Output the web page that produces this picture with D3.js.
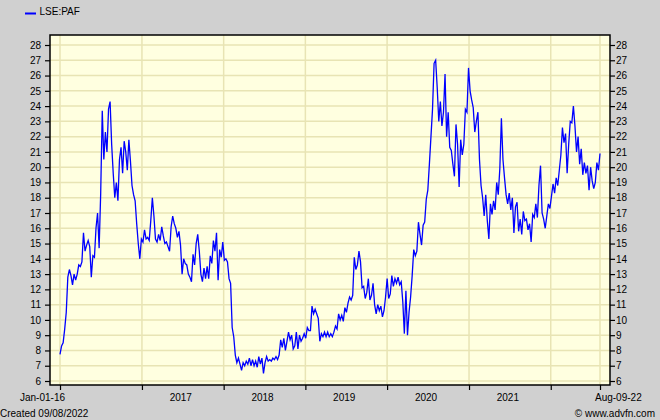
<!DOCTYPE html>
<html><head><meta charset="utf-8">
<script src="https://cdn.jsdelivr.net/npm/d3@7"></script>
<style>
html,body{margin:0;padding:0;background:#d0d0d0;}
svg{display:block;font-family:"Liberation Sans",Arial,sans-serif;}
</style>
</head><body>
<svg id="c" width="660" height="420"></svg>
<script>
const seriesName = "LSE:PAF";
const startDate = "2016-01-01";
const endDate = "2022-08-09";
// weekly closing prices (GBp)
const prices = [
7.75, 8.3, 8.5, 9.4, 10.5, 12.8, 13.3, 12.9, 12.3, 13.0,
12.6, 13.0, 13.6, 13.5, 13.8, 15.7, 14.5, 14.9, 15.2, 14.8,
12.8, 14.2, 14.1, 16.0, 17.0, 14.7, 18.3, 23.7, 20.5, 22.3,
21.0, 23.8, 24.3, 21.5, 19.6, 18.0, 19.0, 17.8, 20.5, 21.3,
19.6, 21.7, 21.0, 19.8, 21.8, 20.4, 18.8, 18.2, 17.8, 16.3,
15.0, 14.0, 15.3, 15.1, 15.9, 15.3, 15.4, 15.2, 16.5, 18.0,
16.8, 15.3, 15.1, 15.6, 15.2, 16.1, 15.5, 15.0, 15.1, 14.8,
14.5, 16.1, 16.8, 16.3, 16.0, 15.4, 15.8, 14.9, 13.0, 14.0,
13.7, 13.6, 13.0, 12.8, 12.5, 14.3, 13.6, 15.0, 15.6, 14.5,
13.0, 12.5, 13.4, 12.7, 13.5, 12.7, 14.2, 13.7, 15.2, 14.5,
15.7, 12.6, 14.6, 14.1, 15.1, 13.9, 14.0, 13.8, 12.7, 12.4,
9.5, 8.9, 7.7, 7.2, 7.5, 7.1, 6.7, 7.2, 7.0, 7.3,
7.1, 7.5, 7.0, 7.4, 7.0, 7.3, 6.9, 7.6, 7.1, 7.5,
6.5, 7.2, 7.6, 7.3, 7.4, 7.3, 7.5, 7.4, 7.6, 7.4,
7.7, 8.7, 8.2, 8.8, 8.0, 8.6, 9.2, 8.7, 9.0, 8.1,
8.3, 9.2, 8.1, 9.0, 8.6, 8.8, 9.1, 8.8, 9.5, 9.3,
9.3, 10.9, 10.4, 10.7, 10.4, 10.1, 8.6, 9.1, 8.9, 9.2,
8.9, 9.2, 8.9, 9.1, 8.9, 9.2, 9.6, 9.4, 10.4, 10.0,
10.3, 9.9, 10.8, 10.5, 11.1, 11.5, 11.3, 11.6, 14.1, 13.3,
13.6, 14.5, 13.8, 12.1, 12.2, 11.4, 11.8, 12.7, 11.3, 11.6,
12.4, 11.0, 10.4, 11.0, 10.6, 10.9, 10.2, 10.6, 11.5, 12.7,
11.4, 11.7, 12.9, 12.2, 12.7, 12.4, 12.8, 12.3, 12.5, 11.2,
9.1, 11.9, 9.0, 10.5, 11.5, 12.9, 14.6, 14.2, 14.5, 16.4,
15.6, 14.9, 16.2, 16.4, 17.9, 18.5, 20.2, 22.0, 23.8, 26.8,
27.0, 25.2, 23.0, 24.3, 22.7, 23.6, 26.1, 22.0, 23.6, 21.3,
21.1, 20.2, 19.4, 22.8, 21.5, 18.7, 21.8, 20.8, 21.5, 23.8,
23.6, 26.5, 25.0, 24.4, 23.9, 22.3, 23.0, 23.6, 20.5, 18.8,
18.0, 16.8, 18.2, 16.5, 15.3, 17.6, 16.9, 17.8, 17.2, 19.0,
18.2, 19.9, 23.2, 20.5, 19.3, 18.2, 17.6, 18.3, 17.2, 18.0,
15.7, 17.4, 17.7, 15.8, 16.6, 15.6, 17.1, 16.5, 16.6, 15.9,
16.3, 15.1, 16.9, 16.7, 17.6, 16.7, 18.8, 20.1, 17.0, 16.6,
16.0, 16.8, 17.6, 17.3, 18.1, 18.9, 18.3, 19.3, 18.8, 19.8,
20.8, 22.6, 21.6, 22.2, 19.6, 21.5, 23.0, 22.9, 24.0, 22.7,
21.0, 22.0, 20.2, 21.2, 19.5, 20.3, 19.6, 20.1, 18.5, 20.0,
19.1, 18.6, 19.0, 20.3, 19.8, 20.9
];
const yTicks = [6,7,8,9,10,11,12,13,14,15,16,17,18,19,20,21,22,23,24,25,26,27,28];
const yearLabels = ["2017","2018","2019","2020","2021"];
const yearStarts = ["2017-01-01","2018-01-01","2019-01-01","2020-01-01","2021-01-01","2022-01-01"];
const firstLabel = "Jan-01-16";
const lastLabel = "Aug-09-22";
const createdText = "Created 09/08/2022";
const creditText = "\u00A9 www.advfn.com";

const parse = d3.utcParse("%Y-%m-%d");
const t0 = parse(startDate), t1 = parse(endDate);
const n = prices.length;
const data = prices.map((v, i) => ({date: new Date(+t0 + i * (t1 - t0) / (n - 1)), value: v}));

const svg = d3.select("#c");
const plot = {left: 50, right: 610, top: 35, bottom: 385};
const x = d3.scaleUtc().domain([t0, t1]).range([60, 600]);
const y = d3.scaleLinear().domain([6, 28]).range([381, 45]);

svg.append("rect").attr("width", 660).attr("height", 420).attr("fill", "#d0d0d0");
svg.append("rect").attr("x", plot.left).attr("y", plot.top)
  .attr("width", plot.right - plot.left).attr("height", plot.bottom - plot.top)
  .attr("fill", "#ffffe0");

const gridColor = "#e8e4b4";
const xTickDates = [t0, ...yearStarts.map(parse), t1];
// horizontal grid
svg.append("g").selectAll("line").data(yTicks).join("line")
  .attr("x1", plot.left).attr("x2", plot.right)
  .attr("y1", d => y(d)).attr("y2", d => y(d))
  .attr("stroke", gridColor).attr("stroke-width", 1.5);
// vertical grid
svg.append("g").selectAll("line").data(xTickDates).join("line")
  .attr("x1", d => x(d)).attr("x2", d => x(d))
  .attr("y1", plot.top).attr("y2", plot.bottom)
  .attr("stroke", gridColor).attr("stroke-width", 1.5);

// series
svg.append("clipPath").attr("id", "clip").append("rect")
  .attr("x", plot.left).attr("y", plot.top)
  .attr("width", plot.right - plot.left).attr("height", plot.bottom - plot.top);
svg.append("path").datum(data)
  .attr("clip-path", "url(#clip)")
  .attr("fill", "none").attr("stroke", "#0000ff").attr("stroke-width", 1.3)
  .attr("stroke-linejoin", "miter")
  .attr("d", d3.line().x(d => x(d.date)).y(d => y(d.value)));

// border
svg.append("rect").attr("x", plot.left).attr("y", plot.top)
  .attr("width", plot.right - plot.left).attr("height", plot.bottom - plot.top)
  .attr("fill", "none").attr("stroke", "#000").attr("stroke-width", 1.5);

// axes
function style(g) {
  g.select(".domain").remove();
  g.selectAll(".tick line").attr("stroke", "#000").attr("stroke-width", 1.2);
  g.selectAll(".tick text").attr("fill", "#000").attr("font-size", 10)
    .attr("font-family", '"Liberation Sans",Arial,sans-serif');
}
svg.append("g").attr("transform", `translate(${plot.left},0)`)
  .call(d3.axisLeft(y).tickValues(yTicks).tickSize(5).tickPadding(4).tickFormat(d3.format("d")))
  .call(style);
svg.append("g").attr("transform", `translate(${plot.right},0)`)
  .call(d3.axisRight(y).tickValues(yTicks).tickSize(5).tickPadding(1).tickFormat(d3.format("d")))
  .call(style);
svg.append("g").attr("transform", `translate(0,${plot.bottom})`)
  .call(d3.axisBottom(x).tickValues(xTickDates).tickSize(5).tickFormat(""))
  .call(style);

const lab = svg.append("g").attr("font-size", 10).attr("fill", "#000");
lab.append("text").attr("x", x(t0) + 5).attr("y", 400.5).attr("text-anchor", "end").text(firstLabel);
lab.append("text").attr("x", x(t1) - 5).attr("y", 400.5).attr("text-anchor", "start").text(lastLabel);
const ys = yearStarts.map(parse);
yearLabels.forEach((l, i) => {
  lab.append("text").attr("x", (x(ys[i]) + x(ys[i + 1])) / 2 - 2).attr("y", 400.5)
    .attr("text-anchor", "middle").text(l);
});
lab.append("text").attr("x", 0).attr("y", 416.5).text(createdText);
lab.append("text").attr("x", 655).attr("y", 416.5).attr("text-anchor", "end").text(creditText);

// legend
svg.append("line").attr("x1", 25).attr("x2", 36).attr("y1", 13.5).attr("y2", 13.5)
  .attr("stroke", "#0000ff").attr("stroke-width", 2);
svg.append("text").attr("x", 39.5).attr("y", 15).attr("font-size", 10).attr("fill", "#000").text(seriesName);
</script>
</body></html>
